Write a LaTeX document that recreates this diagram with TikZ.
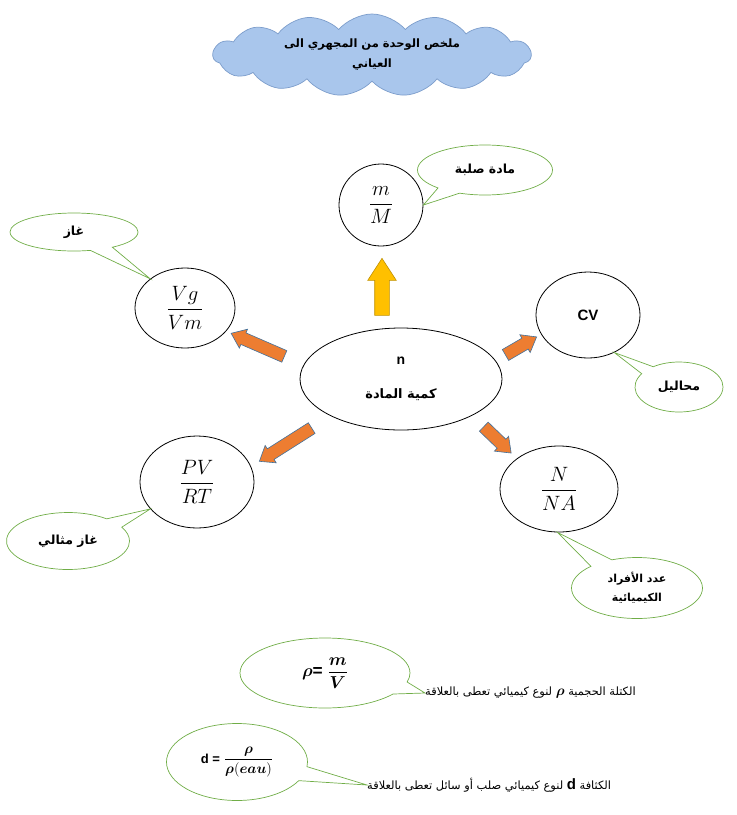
\documentclass[tikz,border=0pt]{standalone}
\usepackage{amsmath,amssymb}
\usepackage{fontspec}
\setmainfont{Liberation Sans}
\newfontfamily\arabicfont[Script=Arabic]{DejaVu Sans}
\TeXXeTstate=1
\usetikzlibrary{shapes.geometric,shapes.symbols,shapes.callouts,shapes.arrows}
\definecolor{ink}{HTML}{000000}
\definecolor{note}{HTML}{70AD47}
\definecolor{cloudfill}{HTML}{A9C6EC}
\definecolor{clouddraw}{HTML}{7C9DCB}
\definecolor{flow}{HTML}{ED7D31}
\definecolor{flowedge}{HTML}{41719C}
\definecolor{gold}{HTML}{FFC000}
\definecolor{goldedge}{HTML}{BF9000}
\tikzset{
  oval/.style={draw=ink, ellipse, line width=0.8pt, inner sep=0pt, align=center,
               font=\fontsize{20.74}{24}\selectfont},
  bubble/.style={draw=note, ellipse callout, line width=0.7pt, inner sep=0pt,
                 callout pointer arc=22, align=center,
                 font=\arabicfont\bfseries\fontsize{12.5}{17}\selectfont},
  flowarrow/.style={single arrow, fill=flow, draw=flowedge, line width=0.6pt,
                    inner xsep=0pt, inner ysep=6pt, single arrow head extend=4pt,
                    single arrow tip angle=75, sloped, allow upside down},
  goldarrow/.style={single arrow, fill=gold, draw=goldedge, line width=0.6pt,
                    inner xsep=0pt, inner ysep=7pt, single arrow head extend=7pt,
                    single arrow tip angle=66, sloped, allow upside down},
  plaintext/.style={anchor=west, inner sep=0pt, font=\arabicfont\fontsize{11.4}{13}\selectfont}
}
\begin{document}
\begin{tikzpicture}[x=1pt,y=-1pt]
  \useasboundingbox (0,0) rectangle (737,815);
  % title
  \node[cloud, cloud puffs=15, cloud puff arc=100, cloud ignores aspect,
        draw=clouddraw, fill=cloudfill, line width=0.7pt, minimum width=318pt,
        minimum height=82pt, inner sep=0pt, align=center,
        font=\arabicfont\bfseries\fontsize{11.5}{20}\selectfont] (title) at (372,55)
    {\beginR ملخص الوحدة من المجهري الى\endR\\\beginR العياني\endR};
  % centre and the five relations
  \node[oval, minimum width=202pt, minimum height=102pt] (amount) at (401,379)
    {\textbf{\fontsize{14}{14}\selectfont n}\\[10pt]
     {\arabicfont\bfseries\fontsize{13}{15}\selectfont\beginR كمية المادة\endR}};
  \node[oval, minimum width=84pt, minimum height=82pt] (solid) at (381,205)
    {$\displaystyle\frac{m}{M}$};
  \node[oval, minimum width=100pt, minimum height=80pt] (gas) at (185,308)
    {$\displaystyle\frac{Vg}{Vm}$};
  \node[oval, minimum width=104pt, minimum height=86pt] (sol) at (588,315)
    {\textbf{\fontsize{15}{15}\selectfont CV}};
  \node[oval, minimum width=114pt, minimum height=92pt] (ideal) at (197,482)
    {$\displaystyle\frac{PV}{RT}$};
  \node[oval, minimum width=118pt, minimum height=86pt] (part) at (559,489)
    {$\displaystyle\frac{N}{NA}$};
  % block arrows
  \coordinate (upS) at (382,321);  \coordinate (upE) at (382,264);
  \coordinate (gasS) at (288,358); \coordinate (gasE) at (235,335);
  \coordinate (solS) at (502,357); \coordinate (solE) at (533,339);
  \coordinate (idS) at (315,426);  \coordinate (idE) at (263,459);
  \coordinate (ptS) at (481,424);  \coordinate (ptE) at (508,450);
  \path (upS) -- (upE) node[midway, goldarrow, minimum height=57pt] (upflow) {};
  \path (gasS) -- (gasE) node[midway, flowarrow, minimum height=58pt] (gasflow) {};
  \path (solS) -- (solE) node[midway, flowarrow, minimum height=36pt] (solflow) {};
  \path (idS) -- (idE) node[midway, flowarrow, minimum height=62pt] (idflow) {};
  \path (ptS) -- (ptE) node[midway, flowarrow, minimum height=38pt] (ptflow) {};
  % speech bubbles
  \node[bubble, minimum width=135pt, minimum height=50pt,
        callout absolute pointer={(solid.east)}] (solidnote) at (485,170)
    {\beginR مادة صلبة\endR};
  \node[bubble, minimum width=128pt, minimum height=38pt,
        callout absolute pointer={(gas.140)}] (gasnote) at (74,232)
    {\beginR غاز\endR};
  \node[bubble, minimum width=88pt, minimum height=50pt,
        callout absolute pointer={(sol.-55)}] (solnote) at (679,387)
    {\beginR محاليل\endR};
  \node[bubble, minimum width=123pt, minimum height=57pt,
        callout absolute pointer={(ideal.-150)}] (idealnote) at (68,541)
    {\beginR غاز مثالي\endR};
  \node[bubble, minimum width=131pt, minimum height=61pt,
        font=\arabicfont\bfseries\fontsize{11}{19}\selectfont,
        callout absolute pointer={(part.-92)}] (partnote) at (637,588)
    {\beginR عدد الأفراد\endR\\\beginR الكيميائية\endR};
  % density relations
  \node[plaintext] (rhotext) at (425,693)
    {\beginR الكتلة الحجمية {\fontsize{14.4}{14}\selectfont$\boldsymbol{\rho}$} لنوع كيميائي تعطى بالعلاقة\endR};
  \node[plaintext] (dtext) at (367,785)
    {\beginR الكثافة {\rmfamily\bfseries\fontsize{15}{15}\selectfont d} لنوع كيميائي صلب أو سائل تعطى بالعلاقة\endR};
  \node[bubble, minimum width=170pt, minimum height=70pt, font=\fontsize{17.28}{19}\selectfont,
        callout absolute pointer={(rhotext.west)}] (rhonote) at (325,673)
    {$\boldsymbol{\rho}$\textbf{=} $\displaystyle\frac{\boldsymbol{m}}{\boldsymbol{V}}$};
  \node[bubble, minimum width=141pt, minimum height=77pt, font=\fontsize{14.4}{16}\selectfont,
        callout absolute pointer={(dtext.west)}] (dnote) at (237,762)
    {\textbf{\fontsize{13}{13}\selectfont d =} $\displaystyle\frac{\boldsymbol{\rho}}{\boldsymbol{\rho}(\boldsymbol{eau})}$};
\end{tikzpicture}
\end{document}
